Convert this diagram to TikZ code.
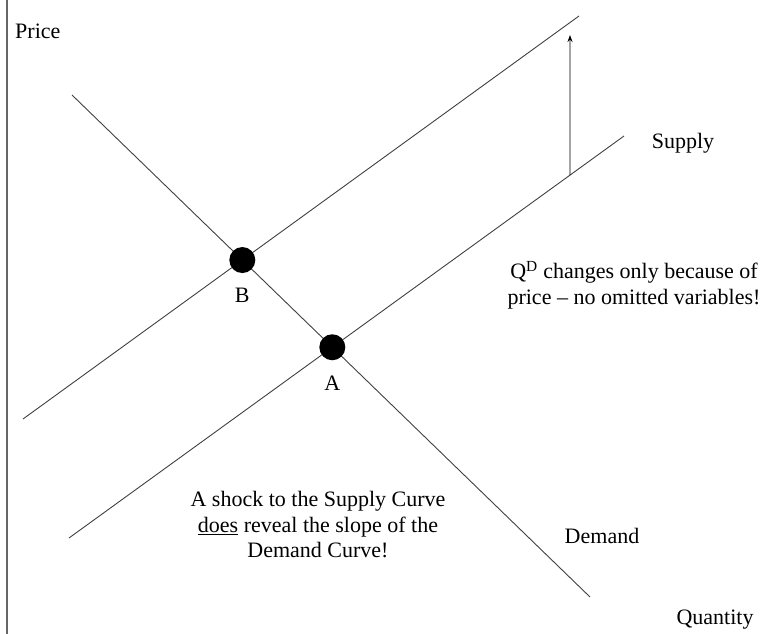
\documentclass[tikz,border=0pt]{standalone}
\usepackage{fontspec}
\setmainfont{Liberation Serif}
\usetikzlibrary{positioning, arrows.meta, calc}

\begin{document}
\begin{tikzpicture}[
    x=1pt, y=-1pt,
    curve/.style={draw=black!75, line width=0.9pt},
    lbl/.style={font=\fontsize{22}{25.5}\selectfont, inner sep=0pt, align=center},
    eq/.style={circle, fill=black, minimum size=26pt, inner sep=0pt},
    arr/.style={-{Stealth[length=7pt, width=5pt]}, line width=0.9pt},
]
\useasboundingbox (0,0) rectangle (764,634);

% price axis
\coordinate (axtop) at (7,0);
\coordinate (axbot) at (7,634);
\draw[draw=black!60, line width=1.3pt] (axtop) -- (axbot);
\node[lbl, anchor=west] (price) at (15,31) {Price};
\node[lbl] (qty) at (715,620) {Quantity};

% supply curves (old and shifted)
\coordinate (s1a) at (69,538);
\coordinate (s1b) at (624,136);
\coordinate (s2a) at (23,419);
\coordinate (s2b) at (579,16);
\draw[curve] (s1a) -- (s1b);
\draw[curve] (s2a) -- (s2b);
\node[lbl] (supply) at (683,143) {Supply};

% demand curve
\coordinate (d1) at (72,95);
\coordinate (d2) at (590,597);
\draw[curve] (d1) -- (d2);
\node[lbl] (demand) at (602,536) {Demand};

% equilibria
\coordinate (A) at (intersection of d1--d2 and s1a--s1b);
\coordinate (B) at (intersection of d1--d2 and s2a--s2b);
\node[eq] (ptA) at (A) {};
\node[eq] (ptB) at (B) {};
\node[lbl, below=15pt of ptA] (labA) {A};
\node[lbl, below=15pt of ptB] (labB) {B};

% the shock
\coordinate (shiftbase) at ($(s1a)!0.9027!(s1b)$);
\coordinate (shifttip) at (570,35);
\draw[arr] (shiftbase) -- (shifttip);

% notes
\node[lbl] (noteqd) at (634,285) {Q\textsuperscript{D} changes only because of\\price -- no omitted variables!};
\node[lbl] (noteshock) at (318,525) {A shock to the Supply Curve\\\underline{does} reveal the slope of the\\Demand Curve!};

\end{tikzpicture}
\end{document}
